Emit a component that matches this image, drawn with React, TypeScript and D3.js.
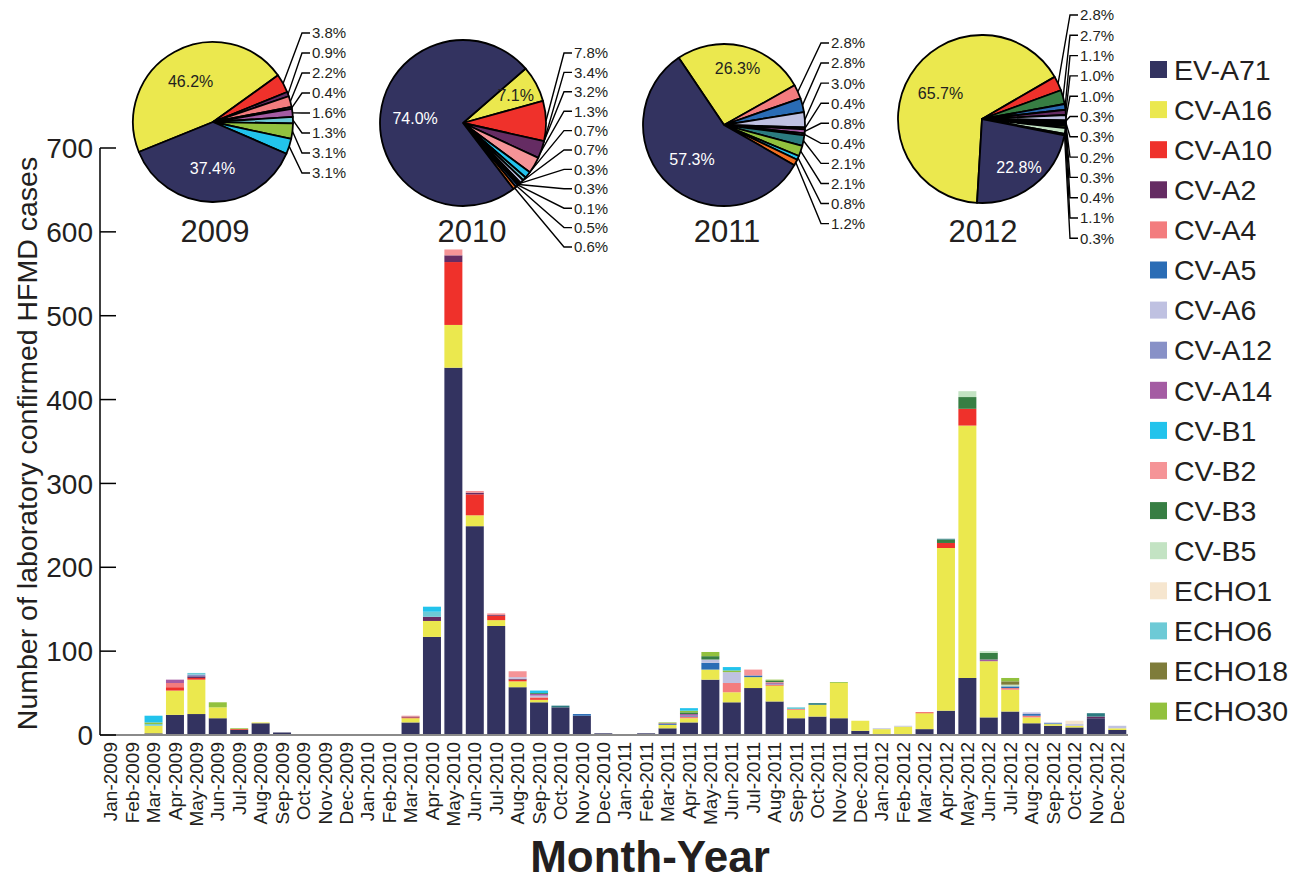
import React from "react";
import * as d3 from "d3";

const FONT = "'Liberation Sans', Arial, Helvetica, sans-serif";
const TEXT = "#231f20";

// ---------- Data ----------
const MONTHS = [
  "Jan-2009","Feb-2009","Mar-2009","Apr-2009","May-2009","Jun-2009","Jul-2009","Aug-2009","Sep-2009","Oct-2009","Nov-2009","Dec-2009",
  "Jan-2010","Feb-2010","Mar-2010","Apr-2010","May-2010","Jun-2010","Jul-2010","Aug-2010","Sep-2010","Oct-2010","Nov-2010","Dec-2010",
  "Jan-2011","Feb-2011","Mar-2011","Apr-2011","May-2011","Jun-2011","Jul-2011","Aug-2011","Sep-2011","Oct-2011","Nov-2011","Dec-2011",
  "Jan-2012","Feb-2012","Mar-2012","Apr-2012","May-2012","Jun-2012","Jul-2012","Aug-2012","Sep-2012","Oct-2012","Nov-2012","Dec-2012",
];

const EV_A71 = [
  0,0,2,24,25,20,6,14,3,0,0,0,
  0,0,15,117,438,249,130,57,39,33,23,2,
  0,2,8,15,66,39,56,40,20,22,20,5,
  1,1,7,29,68,21,28,14,11,9,20,6,
];
const CV_A16 = [
  0,0,9,29,41,13,0,1,0,0,0,0,
  0,0,5,19,51,13,7,7,3,0,0,0,
  0,0,4,5,12,12,13,19,10,14,42,12,
  6,9,19,194,301,67,26,7,2,2,0,2,
];
const CV_A10 = [
  0,0,0,4,2,0,1,0,0,0,0,0,
  0,0,1,0,75,25,5,2,2,0,0,0,
  0,0,0,0,0,0,0,1,0,0,0,0,
  0,0,1,6,20,0,0,0,0,0,0,0,
];
const CV_A2 = [
  0,0,0,0,2,0,0,0,0,0,0,0,
  0,0,1,5,8,2,1,1,0,0,0,0,
  0,0,0,0,0,0,0,0,0,0,0,0,
  0,0,0,0,0,0,0,0,0,0,2,0,
];
const CV_A4 = [
  0,0,0,5,0,0,0,0,0,0,0,0,
  0,0,0,0,0,0,0,0,1,0,0,0,
  0,0,0,2,0,11,0,0,1,0,0,0,
  0,0,0,0,0,0,2,2,0,0,0,0,
];
const CV_A5 = [
  0,0,0,0,0,0,0,0,0,0,0,0,
  0,0,0,0,0,0,0,0,0,0,2,0,
  0,0,1,1,8,0,2,0,0,0,0,0,
  0,0,0,0,0,0,2,2,1,0,0,0,
];
const CV_A6 = [
  0,0,0,0,0,0,0,0,0,0,0,0,
  0,0,0,0,0,0,0,2,2,0,0,0,
  0,0,0,0,4,13,0,0,0,0,0,0,
  1,1,0,0,0,0,0,2,1,2,0,3,
];
const CV_A12 = [
  0,0,0,0,2,0,0,0,0,0,0,0,
  0,0,0,0,0,0,0,0,0,0,0,0,
  0,0,0,0,0,0,0,1,0,0,0,0,
  0,0,0,0,0,0,0,0,0,0,0,0,
];
const CV_A14 = [
  0,0,0,4,0,0,0,0,0,0,0,0,
  0,0,0,0,0,0,0,0,2,0,0,0,
  0,0,1,2,0,0,0,1,0,0,0,0,
  0,0,0,0,0,2,0,0,0,0,0,0,
];
const CV_B1 = [
  0,0,8,0,0,0,0,0,0,0,0,0,
  0,0,0,6,0,0,0,0,3,0,0,0,
  0,0,0,3,0,4,0,0,0,0,0,0,
  0,0,0,0,0,0,0,0,0,0,0,0,
];
const CV_B2 = [
  0,0,0,0,0,0,0,0,0,0,0,0,
  0,0,1,0,7,2,2,7,0,0,0,0,
  0,0,0,0,0,0,7,1,0,0,0,0,
  0,0,0,0,0,0,0,0,0,0,0,0,
];
const CV_B3 = [
  0,0,0,0,0,0,0,0,0,0,0,0,
  0,0,0,0,0,0,0,0,1,0,0,0,
  0,0,0,2,4,0,0,2,0,0,0,0,
  0,0,0,4,14,8,0,0,0,0,0,0,
];
const CV_B5 = [
  0,0,0,0,0,0,0,0,0,0,0,0,
  0,0,0,0,0,0,0,0,0,0,0,0,
  0,0,0,0,0,0,0,0,0,0,0,0,
  0,0,0,0,7,2,2,0,0,0,0,0,
];
const ECHO1 = [
  0,0,0,0,0,0,0,0,0,0,0,0,
  0,0,0,0,0,0,0,0,0,0,0,0,
  0,0,0,0,0,0,0,0,0,0,0,0,
  0,0,0,0,0,0,0,0,0,4,0,0,
];
const ECHO6 = [
  0,0,2,0,2,0,0,0,0,0,0,0,
  0,0,0,6,0,0,0,0,0,0,0,0,
  0,0,0,0,0,0,0,0,2,0,0,0,
  0,0,0,0,0,0,0,0,0,0,0,0,
];
const ECHO18 = [
  0,0,0,0,0,0,0,0,0,0,0,0,
  0,0,0,0,0,0,0,0,0,0,0,0,
  0,0,0,0,0,0,0,0,0,0,0,0,
  0,0,0,0,0,0,4,0,0,0,0,0,
];
const ECHO30 = [
  0,0,2,0,0,6,1,0,0,0,0,0,
  0,0,0,0,0,0,0,0,0,0,0,0,
  0,0,1,2,5,2,0,1,0,0,1,0,
  0,0,0,0,0,0,4,0,0,0,0,0,
];
// unlisted serotype shown in dark teal in the original figure
const OTHER_TEAL = [
  0,0,0,0,0,0,0,0,0,0,0,0,
  0,0,0,0,0,0,0,0,0,2,0,0,
  0,0,0,0,0,0,0,0,0,2,0,0,
  0,0,0,1,0,0,0,0,0,0,4,0,
];

const LEGEND_KEYS = [
  "EV-A71","CV-A16","CV-A10","CV-A2","CV-A4","CV-A5","CV-A6","CV-A12","CV-A14",
  "CV-B1","CV-B2","CV-B3","CV-B5","ECHO1","ECHO6","ECHO18","ECHO30",
];
const STACK_KEYS = [
  "EV-A71","CV-A16","CV-A10","CV-A2","CV-A4","CV-A5","CV-A6","CV-A12","CV-A14",
  "CV-B2","CV-B3","CV-B5","ECHO1","ECHO6","ECHO18","ECHO30","CV-B1","Other-1",
];
const SERIES: Record<string, number[]> = {
  "EV-A71": EV_A71, "CV-A16": CV_A16, "CV-A10": CV_A10, "CV-A2": CV_A2, "CV-A4": CV_A4,
  "CV-A5": CV_A5, "CV-A6": CV_A6, "CV-A12": CV_A12, "CV-A14": CV_A14, "CV-B1": CV_B1,
  "CV-B2": CV_B2, "CV-B3": CV_B3, "CV-B5": CV_B5, "ECHO1": ECHO1, "ECHO6": ECHO6,
  "ECHO18": ECHO18, "ECHO30": ECHO30, "Other-1": OTHER_TEAL,
};
const COLORS: Record<string, string> = {
  "EV-A71": "#333360", "CV-A16": "#ebe84e", "CV-A10": "#ef312b", "CV-A2": "#652c63",
  "CV-A4": "#f37c7e", "CV-A5": "#2a6cb5", "CV-A6": "#bfc1e1", "CV-A12": "#8891c7",
  "CV-A14": "#a45ca3", "CV-B1": "#22c3ec", "CV-B2": "#f59497", "CV-B3": "#377e43",
  "CV-B5": "#c3e3c3", "ECHO1": "#f6e6cf", "ECHO6": "#6dcad6", "ECHO18": "#7e7c3a",
  "ECHO30": "#92c13e", "Other-1": "#2b7b80", "Other-2": "#f36f21",
};

const Y_TICKS = [0, 100, 200, 300, 400, 500, 600, 700];

// Pie data: clockwise order (CV-A16, minor serotypes..., EV-A71), values in %
const PIE_YEARS = ["2009", "2010", "2011", "2012"];
const PIE_2009_KEYS = ["CV-A16","CV-A10","CV-A2","CV-A4","CV-A12","CV-A14","ECHO6","ECHO30","CV-B1","EV-A71"];
const PIE_2009_VALUES = [46.2,3.8,0.9,2.2,0.4,1.6,1.3,3.1,3.1,37.4];
const PIE_2010_KEYS = ["CV-A16","CV-A10","CV-A2","CV-B2","CV-B1","ECHO6","CV-A6","CV-A4","CV-A14","CV-B3","CV-A5","Other-2","EV-A71"];
const PIE_2010_VALUES = [7.1,7.8,3.4,3.2,1.3,0.7,0.7,0.3,0.3,0.1,0.5,0.6,74.0];
const PIE_2011_KEYS = ["CV-A16","CV-A4","CV-A5","CV-A6","CV-A10","CV-A14","CV-A12","Other-1","ECHO30","CV-B1","Other-2","EV-A71"];
const PIE_2011_VALUES = [26.3,2.8,2.8,3.0,0.4,0.8,0.4,2.1,2.1,0.8,1.2,57.3];
const PIE_2012_KEYS = ["CV-A16","CV-A10","CV-B3","CV-A5","CV-A2","CV-A6","CV-A14","CV-A4","ECHO1","ECHO18","ECHO30","CV-B5","Other-1","EV-A71"];
const PIE_2012_VALUES = [65.7,2.8,2.7,1.1,1.0,1.0,0.3,0.3,0.2,0.3,0.4,1.1,0.3,22.8];

const PIE_DATA = [
  { keys: PIE_2009_KEYS, values: PIE_2009_VALUES },
  { keys: PIE_2010_KEYS, values: PIE_2010_VALUES },
  { keys: PIE_2011_KEYS, values: PIE_2011_VALUES },
  { keys: PIE_2012_KEYS, values: PIE_2012_VALUES },
];

// layout of pies (positions only)
const PIE_LAYOUT = [
  { cx: 213, cy: 122, r: 80, start: -112, labelX: 312, labelTop: 33, labelStep: 20, titleX: 215 },
  { cx: 463, cy: 123, r: 83, start: 49, labelX: 574, labelTop: 53, labelStep: 19.4, titleX: 472 },
  { cx: 724, cy: 125, r: 81, start: -34, labelX: 831, labelTop: 43, labelStep: 20.07, titleX: 727 },
  { cx: 982, cy: 119, r: 84, start: 183.4, labelX: 1080, labelTop: 15, labelStep: 20.3, titleX: 983 },
];

export default function App() {
  const x = d3.scaleBand<string>().domain(MONTHS).range([100, 1128]).paddingInner(0.16).paddingOuter(0.08);
  const y = d3.scaleLinear().domain([0, 700]).range([735, 148]);

  const table = MONTHS.map((m, i) => {
    const row: any = { month: m };
    STACK_KEYS.forEach((k) => (row[k] = SERIES[k][i]));
    return row;
  });
  const stacked = d3.stack<any>().keys(STACK_KEYS)(table);

  const pies = PIE_DATA.map((pd, pi) => {
    const L = PIE_LAYOUT[pi];
    const s = (L.start * Math.PI) / 180;
    const items = pd.keys.map((k, i) => ({ key: k, value: pd.values[i] }));
    const arcs = d3
      .pie<any>()
      .sort(null)
      .value((d) => d.value)
      .startAngle(s)
      .endAngle(s + 2 * Math.PI)(items);
    return { L, arcs };
  });

  return (
    <svg
      width={1312}
      height={882}
      style={{ position: "absolute", left: 0, top: 0, display: "block", background: "#fff" }}
      fontFamily={FONT}
    >
      {/* Bars */}
      <g>
        {stacked.map((layer) => (
          <g key={layer.key} fill={COLORS[layer.key]}>
            {layer.map((d, i) =>
              d[1] - d[0] > 0 ? (
                <rect
                  key={i}
                  x={x(MONTHS[i])}
                  y={y(d[1])}
                  width={x.bandwidth()}
                  height={y(d[0]) - y(d[1])}
                />
              ) : null
            )}
          </g>
        ))}
      </g>

      {/* Baseline */}
      <line x1={100} x2={1128} y1={y(0)} y2={y(0)} stroke="#8a8a8a" strokeWidth={2} />

      {/* Y axis */}
      <line x1={100} x2={100} y1={y(700)} y2={y(0)} stroke="#000" strokeWidth={1.5} />
      {Y_TICKS.map((t) => (
        <g key={t}>
          <line x1={100} x2={116} y1={y(t)} y2={y(t)} stroke="#000" strokeWidth={1.5} />
          <text x={93} y={y(t)} dy="0.36em" textAnchor="end" fontSize={28} fill={TEXT}>
            {t}
          </text>
        </g>
      ))}
      <text
        transform={`translate(37,${(y(700) + y(0)) / 2 + 2}) rotate(-90)`}
        textAnchor="middle"
        fontSize={28.5}
        fill={TEXT}
      >
        Number of laboratory confirmed HFMD cases
      </text>

      {/* X labels */}
      {MONTHS.map((m) => (
        <text
          key={m}
          transform={`translate(${(x(m) as number) + x.bandwidth() / 2},742) rotate(-90)`}
          dy="0.35em"
          textAnchor="end"
          fontSize={19}
          fill={TEXT}
        >
          {m}
        </text>
      ))}
      <text x={650} y={872} textAnchor="middle" fontSize={44} fontWeight="bold" fill={TEXT}>
        Month-Year
      </text>

      {/* Pies */}
      {pies.map(({ L, arcs }, pi) => {
        const arcGen = d3.arc<any>().innerRadius(0).outerRadius(L.r);
        const small = arcs.slice(1, arcs.length - 1);
        const big = [arcs[0], arcs[arcs.length - 1]];
        const elbowX = L.labelX - 10;
        return (
          <g key={pi}>
            {small.map((a, i) => {
              const ang = (a.startAngle + a.endAngle) / 2;
              const px = L.cx + L.r * Math.sin(ang);
              const py = L.cy - L.r * Math.cos(ang);
              const ly = L.labelTop + i * L.labelStep;
              return (
                <g key={i}>
                  <path
                    d={`M${px},${py}L${elbowX},${ly}L${L.labelX - 2},${ly}`}
                    fill="none"
                    stroke="#000"
                    strokeWidth={1.4}
                  />
                  <text x={L.labelX} y={ly} dy="0.36em" fontSize={15} fill={TEXT}>
                    {a.data.value.toFixed(1)}%
                  </text>
                </g>
              );
            })}
            <g transform={`translate(${L.cx},${L.cy})`}>
              {arcs.map((a, i) => (
                <path
                  key={i}
                  d={arcGen(a) as string}
                  fill={COLORS[a.data.key]}
                  stroke="#000"
                  strokeWidth={1.8}
                  strokeLinejoin="round"
                />
              ))}
              {big.map((a, i) => {
                const ang = (a.startAngle + a.endAngle) / 2;
                const f = a.data.value < 30 ? 0.72 : 0.58;
                const tx = L.r * f * Math.sin(ang);
                const ty = -L.r * f * Math.cos(ang);
                return (
                  <text
                    key={i}
                    x={tx}
                    y={ty}
                    dy="0.36em"
                    textAnchor="middle"
                    fontSize={16}
                    fill={a.data.key === "EV-A71" ? "#ffffff" : TEXT}
                  >
                    {a.data.value.toFixed(1)}%
                  </text>
                );
              })}
            </g>
            <text x={L.titleX} y={242} textAnchor="middle" fontSize={31} fill={TEXT}>
              {PIE_YEARS[pi]}
            </text>
          </g>
        );
      })}

      {/* Legend */}
      {LEGEND_KEYS.map((k, i) => {
        const cy = 69.5 + i * 40.1;
        return (
          <g key={k}>
            <rect x={1150} y={cy - 8.5} width={17} height={17} fill={COLORS[k]} />
            <text x={1174} y={cy} dy="0.36em" fontSize={28.5} fill={TEXT}>
              {k}
            </text>
          </g>
        );
      })}
    </svg>
  );
}
